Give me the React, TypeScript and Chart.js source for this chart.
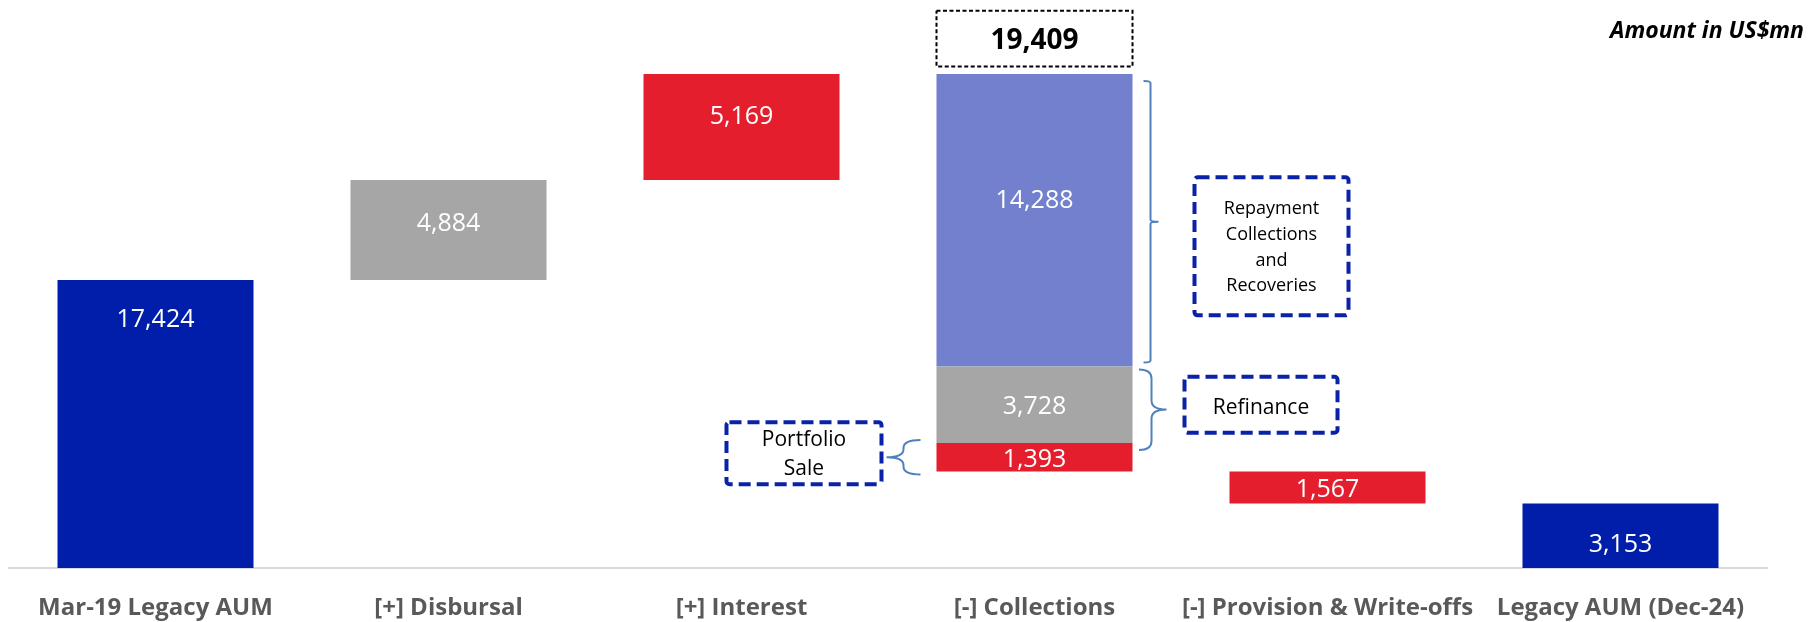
import React, { useEffect, useRef } from "react";
import { Chart, registerables } from "chart.js";

Chart.register(...registerables);

// ---------- data (US$ mn) ----------
const categories = [
  "Mar-19 Legacy AUM",
  "[+] Disbursal",
  "[+] Interest",
  "[-] Collections",
  "[-] Provision & Write-offs",
  "Legacy AUM (Dec-24)",
];
const openingAum = 17424;
const disbursal = 4884;
const interest = 5169;
const repaymentCollections = 14288;
const refinance = 3728;
const portfolioSale = 1393;
const collectionsTotal = 19409;
const provisions = 1567;
const closingAum = 3153;

// ---------- waterfall levels (built backwards from the closing value;
// the opening bar is drawn shortened, as in the original slide) ----------
const lvlAfterCollections = closingAum + provisions;
const lvlBeforeCollections = lvlAfterCollections + collectionsTotal;
const lvlAfterDisbursal = lvlBeforeCollections - interest;
const lvlStart = lvlAfterDisbursal - disbursal;
const lvlSale = lvlAfterCollections + portfolioSale;
const lvlRefi = lvlSale + refinance;

const navyData = [[0, lvlStart], null, null, null, null, [0, closingAum]];
const grayData = [null, [lvlStart, lvlAfterDisbursal], null, [lvlSale, lvlRefi], null, null];
const redData = [
  null,
  null,
  [lvlAfterDisbursal, lvlBeforeCollections],
  [lvlAfterCollections, lvlSale],
  [closingAum, lvlAfterCollections],
  null,
];
const lightData = [null, null, null, [lvlRefi, lvlBeforeCollections], null, null];

const navyLabels = [openingAum, null, null, null, null, closingAum];
const grayLabels = [null, disbursal, null, refinance, null, null];
const redLabels = [null, null, interest, portfolioSale, provisions, null];
const lightLabels = [null, null, null, repaymentCollections, null, null];

// ---------- styles ----------
const NAVY = "#011EAA";
const GRAY = "#A6A6A6";
const RED = "#E41E2D";
const LIGHT = "#7380CD";
const BOX_BLUE = "#0A22A6";
const BRACE = "#4F81BD";
const FONT = '"Open Sans", sans-serif';

// label vertical position as fraction of the bar height (from top)
const labelFrac: Record<string, number> = {
  "0-0": 0.132,
  "0-5": 0.62,
  "1-1": 0.42,
  "1-3": 0.5,
  "2-2": 0.39,
  "2-3": 0.53,
  "2-4": 0.52,
  "3-3": 0.426,
};

const fmt = (v: number) => v.toLocaleString("en-US");

function text(
  ctx: CanvasRenderingContext2D,
  s: string,
  x: number,
  capMid: number,
  size: number,
  weight: string,
  color: string,
  align: CanvasTextAlign = "center",
  style = "normal"
) {
  ctx.save();
  ctx.font = `${style} ${weight} ${size}px ${FONT}`;
  ctx.fillStyle = color;
  ctx.textAlign = align;
  ctx.textBaseline = "alphabetic";
  ctx.fillText(s, x, capMid + size * 0.357);
  ctx.restore();
}

function dashedBox(
  ctx: CanvasRenderingContext2D,
  x: number,
  y: number,
  w: number,
  h: number,
  color: string,
  lw: number,
  dash: number[],
  r: number
) {
  ctx.save();
  ctx.strokeStyle = color;
  ctx.lineWidth = lw;
  ctx.setLineDash(dash);
  ctx.beginPath();
  if ((ctx as any).roundRect) (ctx as any).roundRect(x, y, w, h, r);
  else ctx.rect(x, y, w, h);
  ctx.stroke();
  ctx.restore();
}

// brace: x0 = hook ends, xs = spine, xt = tip
function brace(
  ctx: CanvasRenderingContext2D,
  x0: number,
  xs: number,
  xt: number,
  y0: number,
  y1: number,
  yt: number,
  r: number
) {
  ctx.save();
  ctx.strokeStyle = BRACE;
  ctx.lineWidth = 2;
  ctx.beginPath();
  ctx.moveTo(x0, y0);
  ctx.quadraticCurveTo(xs, y0, xs, y0 + r);
  ctx.lineTo(xs, yt - r);
  ctx.quadraticCurveTo(xs, yt, xt, yt);
  ctx.quadraticCurveTo(xs, yt, xs, yt + r);
  ctx.lineTo(xs, y1 - r);
  ctx.quadraticCurveTo(xs, y1, x0, y1);
  ctx.stroke();
  ctx.restore();
}

const annotate = {
  id: "annotate",
  afterDatasetsDraw(chart: any) {
    const ctx: CanvasRenderingContext2D = chart.ctx;
    const el = (d: number, i: number) => {
      const e = chart.getDatasetMeta(d).data[i];
      const top = Math.min(e.y, e.base);
      const bot = Math.max(e.y, e.base);
      return {
        x: e.x,
        left: e.x - e.width / 2,
        right: e.x + e.width / 2,
        w: e.width,
        top,
        bot,
        mid: (top + bot) / 2,
        h: bot - top,
      };
    };

    // value labels
    const allLabels = [navyLabels, grayLabels, redLabels, lightLabels];
    allLabels.forEach((arr, d) => {
      arr.forEach((v, i) => {
        if (v == null) return;
        const b = el(d, i);
        const f = labelFrac[`${d}-${i}`] ?? 0.5;
        text(ctx, fmt(v), b.x, b.top + b.h * f, 25, "400", "#FFFFFF");
      });
    });

    const blue = el(3, 3);
    const gray = el(1, 3);
    const red = el(2, 3);

    // total box above collections
    dashedBox(ctx, blue.left, blue.top - 63.4, blue.w, 55.7, "#000000", 2, [4, 2.5], 0);
    text(ctx, fmt(collectionsTotal), blue.x, blue.top - 35, 28, "700", "#000000");

    // braces
    brace(ctx, blue.right + 11, blue.right + 18, blue.right + 26, blue.top + 7, blue.bot - 4, blue.mid + 1.5, 2);
    brace(ctx, gray.right + 6.5, gray.right + 19, gray.right + 34, gray.top + 3, gray.bot + 7, gray.top + 43, 9);
    brace(ctx, red.left - 16, red.left - 33, red.left - 50, red.top - 3, red.bot + 3, red.mid, 8);

    // repayment box
    const rx = blue.right + 62;
    const ry = blue.mid - 43;
    dashedBox(ctx, rx, ry, 154, 138, BOX_BLUE, 4, [12, 6], 3);
    ["Repayment", "Collections", "and", "Recoveries"].forEach((s, k) => {
      text(ctx, s, rx + 77, ry + 69 + (k - 1.5) * 25.7, 18, "400", "#000000");
    });

    // refinance box
    const fx = gray.right + 52;
    const fy = gray.mid - 28;
    dashedBox(ctx, fx, fy, 153, 56, BOX_BLUE, 4, [12, 6], 3);
    text(ctx, "Refinance", fx + 76.5, fy + 30, 21, "400", "#000000");

    // portfolio sale box
    const px = red.left - 210;
    const py = red.mid - 35;
    dashedBox(ctx, px, py, 155, 62, BOX_BLUE, 4, [12, 6], 3);
    text(ctx, "Portfolio", px + 77.5, py + 31 - 14.25, 21, "400", "#000000");
    text(ctx, "Sale", px + 77.5, py + 31 + 14.25, 21, "400", "#000000");

    // unit note
    text(ctx, "Amount in US$mn", 1804, 30, 23, "700", "#000000", "right", "italic");
  },
};

export default function App() {
  const ref = useRef<HTMLCanvasElement | null>(null);

  useEffect(() => {
    if (!ref.current) return;
    const chart = new Chart(ref.current, {
      type: "bar",
      data: {
        labels: categories,
        datasets: [
          { data: navyData as any, backgroundColor: NAVY },
          { data: grayData as any, backgroundColor: GRAY },
          { data: redData as any, backgroundColor: RED },
          { data: lightData as any, backgroundColor: LIGHT },
        ],
      },
      options: {
        responsive: false,
        animation: false,
        layout: { padding: { left: 9, right: 49, top: 0, bottom: 0 } },
        datasets: {
          bar: {
            grouped: false,
            categoryPercentage: 1,
            barPercentage: 0.669,
            borderWidth: 0,
          },
        },
        plugins: {
          legend: { display: false },
          tooltip: { enabled: false },
          title: { display: false },
        },
        scales: {
          x: {
            grid: { display: false, drawTicks: false },
            border: { display: true, color: "#D9D9D9", width: 2 },
            ticks: {
              color: "#595959",
              font: { family: FONT, size: 24, weight: "bold" as any },
              padding: 26,
              maxRotation: 0,
              autoSkip: false,
            },
            afterFit: (scale: any) => {
              scale.height = 54;
            },
          },
          y: {
            display: false,
            min: 0,
            max: 27750,
          },
        },
      },
      plugins: [annotate],
    });
    return () => chart.destroy();
  }, []);

  return (
    <div style={{ position: "fixed", left: 0, top: 0, width: 1816, height: 622, background: "#fff" }}>
      <canvas ref={ref} width={1816} height={622} style={{ display: "block", width: 1816, height: 622 }} />
    </div>
  );
}
